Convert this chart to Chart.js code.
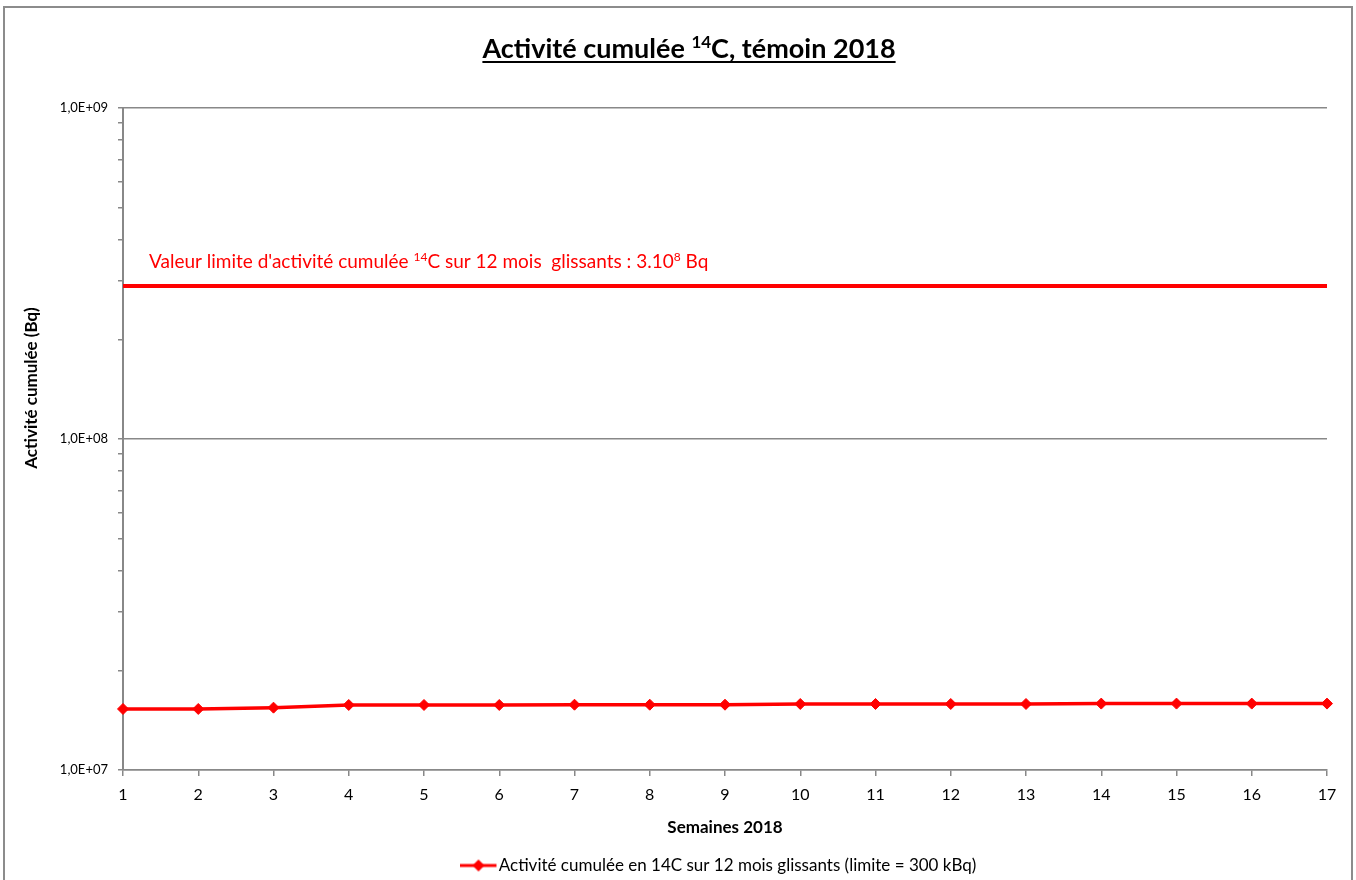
<!DOCTYPE html>
<html>
<head>
<meta charset="utf-8">
<script src="https://cdn.jsdelivr.net/npm/chart.js@4/dist/chart.umd.min.js"></script>
<style>
html, body { margin: 0; padding: 0; background: #fff; }
#wrap { width: 1356px; height: 880px; }
</style>
</head>
<body>
<div id="wrap"><canvas id="chart" width="1356" height="880"></canvas></div>
<script>
// donnees
var semaines = ['1','2','3','4','5','6','7','8','9','10','11','12','13','14','15','16','17'];
var activite = [1.529e7, 1.529e7, 1.543e7, 1.572e7, 1.572e7, 1.572e7, 1.575e7, 1.575e7, 1.575e7,
                1.583e7, 1.583e7, 1.583e7, 1.583e7, 1.587e7, 1.587e7, 1.587e7, 1.587e7];
var limite = 2.9e8;
var yMin = 1e7, yMax = 1e9;

var serieLabel = 'Activité cumulée en 14C sur 12 mois glissants (limite = 300 kBq)';
var titre = [['Activité cumulée ', 0], ['14', 1], ['C, témoin 2018', 0]];
var annotation = [["Valeur limite d'activité cumulée ", 0], ['14', 1], ['C sur 12 mois  glissants : 3.10', 0], ['8', 1], [' Bq', 0]];
var titreY = 'Activité cumulée (Bq)';
var titreX = 'Semaines 2018';

var FONT = 'Lato';
var ROUGE = '#ff0000';
var GRIS = '#888888';

function isPow10(v) {
  var l = Math.log10(v);
  return Math.abs(l - Math.round(l)) < 1e-9;
}

function fmtExp(v) {
  var e = Math.round(Math.log10(v));
  return '1,0E+' + (e < 10 ? '0' + e : e);
}

// petit symbole de legende : trait + losange (marge a droite pour le decalage)
function legendSymbol() {
  var c = document.createElement('canvas');
  c.width = 43; c.height = 14;
  var g = c.getContext('2d');
  g.strokeStyle = ROUGE; g.lineWidth = 3;
  g.beginPath(); g.moveTo(0, 7); g.lineTo(36, 7); g.stroke();
  g.fillStyle = ROUGE;
  g.beginPath(); g.moveTo(18, 1); g.lineTo(24, 7); g.lineTo(18, 13); g.lineTo(12, 7); g.closePath(); g.fill();
  return c;
}

// texte avec exposants
function drawRich(ctx, parts, x, y, size, weight, color, align, underline) {
  var supSize = Math.round(size * 0.62);
  var w = 0, i;
  for (i = 0; i < parts.length; i++) {
    ctx.font = weight + ' ' + (parts[i][1] ? supSize : size) + 'px ' + FONT;
    w += ctx.measureText(parts[i][0]).width;
  }
  var cx = align === 'center' ? x - w / 2 : x;
  var x0 = cx;
  ctx.fillStyle = color;
  ctx.textBaseline = 'alphabetic';
  ctx.textAlign = 'left';
  for (i = 0; i < parts.length; i++) {
    ctx.font = weight + ' ' + (parts[i][1] ? supSize : size) + 'px ' + FONT;
    ctx.fillText(parts[i][0], cx, parts[i][1] ? y - size * 0.38 : y);
    cx += ctx.measureText(parts[i][0]).width;
  }
  if (underline) {
    ctx.strokeStyle = color; ctx.lineWidth = 2;
    ctx.beginPath(); ctx.moveTo(x0, y + 4); ctx.lineTo(cx, y + 4); ctx.stroke();
  }
}

var decor = {
  id: 'decor',
  beforeDraw: function(chart) {
    var ctx = chart.ctx;
    ctx.save();
    ctx.strokeStyle = '#8c8c8c'; ctx.lineWidth = 2;
    ctx.strokeRect(4, 7, 1348, 900);
    ctx.restore();
  },
  afterDraw: function(chart) {
    var ctx = chart.ctx, area = chart.chartArea;
    var ys = chart.scales.y;
    ctx.save();
    drawRich(ctx, titre, (area.left + area.right) / 2 - 36, 58, 27, 'bold', '#000', 'center', true);
    drawRich(ctx, annotation, area.left + 26, ys.getPixelForValue(limite) - 18, 19, 'normal', ROUGE, 'left', false);
    ctx.translate(32, area.top + 280);
    ctx.rotate(-Math.PI / 2);
    ctx.font = 'bold 17px ' + FONT;
    ctx.fillStyle = '#000';
    ctx.textAlign = 'center';
    ctx.textBaseline = 'middle';
    ctx.fillText(titreY, 0, 0);
    ctx.restore();
  }
};

new Chart(document.getElementById('chart').getContext('2d'), {
  type: 'line',
  data: {
    labels: semaines,
    datasets: [
      {
        label: serieLabel,
        data: activite,
        borderColor: ROUGE,
        backgroundColor: ROUGE,
        borderWidth: 3.5,
        pointStyle: 'rectRot',
        pointRadius: 5.5,
        pointBorderWidth: 1,
        tension: 0
      },
      {
        label: 'limite',
        data: [{x: semaines[0], y: limite}, {x: semaines[semaines.length - 1], y: limite}],
        borderColor: ROUGE,
        borderWidth: 4,
        pointRadius: 0
      }
    ]
  },
  options: {
    responsive: false,
    animation: false,
    layout: { padding: { top: 108, right: 29, left: 0, bottom: -4 } },
    plugins: {
      title: { display: false },
      tooltip: { enabled: false },
      legend: {
        position: 'bottom',
        fullSize: false,
        labels: {
          usePointStyle: true,
          pointStyle: legendSymbol(),
          pointStyleWidth: 16.5,
          color: '#000',
          font: { family: FONT, size: 17 },
          padding: 10,
          filter: function(item) { return item.datasetIndex === 0; }
        }
      }
    },
    scales: {
      x: {
        type: 'category',
        offset: false,
        afterFit: function(s) { s.height = 77; },
        border: { color: GRIS, width: 1.5 },
        grid: { drawOnChartArea: false, color: GRIS, tickLength: 6, lineWidth: 1.5 },
        ticks: { color: '#000', font: { family: FONT, size: 16 }, padding: 9, maxRotation: 0 },
        title: { display: true, text: titreX, color: '#000', font: { family: FONT, size: 17, weight: 'bold' }, padding: { top: 8, bottom: 9 } }
      },
      y: {
        type: 'logarithmic',
        min: yMin,
        max: yMax,
        afterFit: function(s) { s.width = 123; },
        afterBuildTicks: function(s) {
          s.ticks = s.ticks.filter(function(t) {
            var m = t.value / Math.pow(10, Math.floor(Math.log10(t.value) + 1e-9));
            return Math.abs(m - Math.round(m)) < 1e-6;
          });
        },
        border: { color: GRIS, width: 2 },
        grid: {
          color: function(c) { return c.tick && isPow10(c.tick.value) ? GRIS : 'rgba(0,0,0,0)'; },
          tickColor: GRIS,
          tickLength: 5,
          lineWidth: 1.5
        },
        ticks: {
          autoSkip: false,
          color: '#000',
          padding: 10,
          font: { family: FONT, size: 13 },
          callback: function(v) { return isPow10(v) ? fmtExp(v) : ''; }
        }
      }
    }
  },
  plugins: [decor]
});
</script>
</body>
</html>
